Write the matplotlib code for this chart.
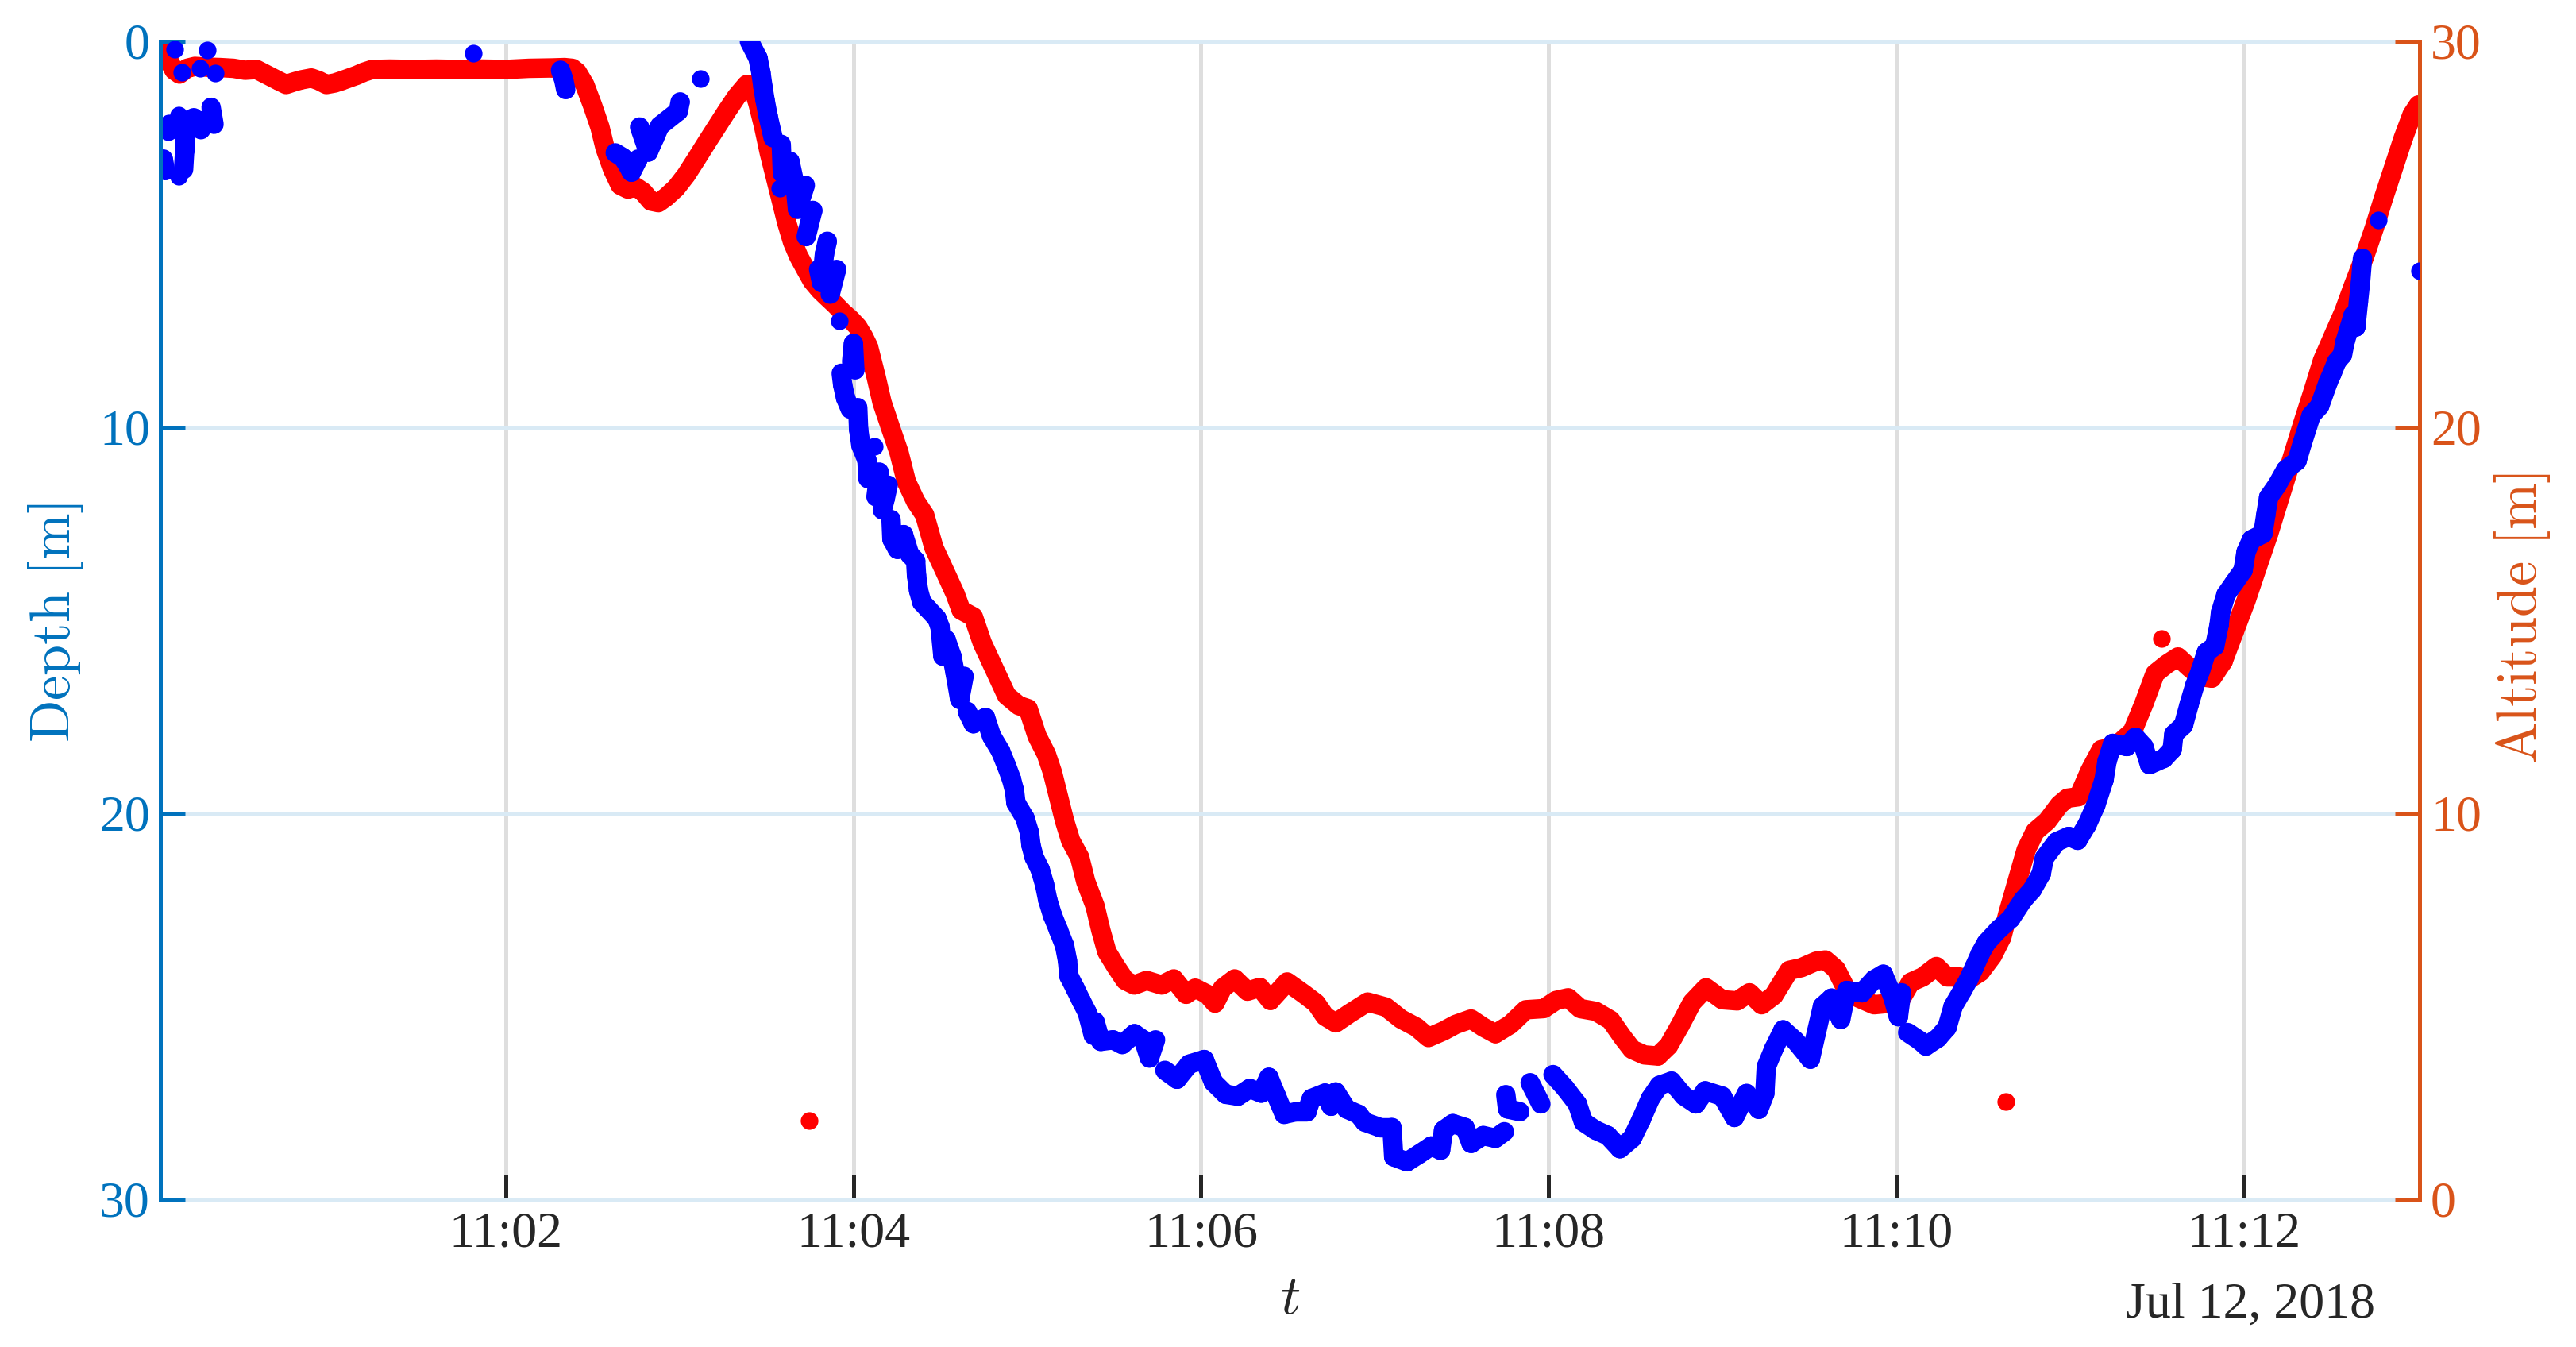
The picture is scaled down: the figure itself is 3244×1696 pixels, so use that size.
import numpy as np
import matplotlib
matplotlib.use('Agg')
import matplotlib.pyplot as plt
import matplotlib.dates as mdates
from matplotlib.collections import LineCollection
from datetime import datetime, timedelta

plt.rcParams['font.family'] = ['Liberation Serif', 'DejaVu Serif']
plt.rcParams['mathtext.fontset'] = 'cm'

# ---------------- data (seconds after 11:00:00, Jul 12 2018) ----------------
DATE0 = datetime(2018, 7, 12, 11, 0, 0)

red_t = [1, 3, 5.5, 7.4, 10, 12.7, 17, 21.4, 26, 30, 34, 38.9, 41.5, 44.2, 47, 49.4,
         52.9, 55.5, 58.1, 61, 63.4, 66, 68.6, 71, 73.9, 80, 88, 96, 104, 112, 120,
         128, 136, 140.3, 143, 144.7, 147.3, 150, 152.5, 154.3, 156.9, 159.5, 162.2,
         164.8, 167.4, 170.1, 172.7, 175.3, 178.8, 182.3, 185.8, 189.3, 192.8, 196.3,
         199.7, 203.2, 205, 207, 209, 211, 213, 215, 217, 219, 221.1, 223.5, 225.8,
         228.5, 231, 233.7, 236.3, 239, 241.5, 243.5, 245.2, 247.8, 249.9, 253, 255.7,
         258.3, 261.5, 264.6, 267.8, 272, 275.1, 277.2, 281.4, 284.5, 288.7, 292.9,
         297.1, 300.3, 303.4, 306.6, 308.7, 310.8, 312.9, 315, 318.1, 320.2, 323.4,
         325.4, 327.5, 330.7, 333.8, 337, 341.2, 346.4, 350.6, 354.8, 358, 362.2,
         364.8, 367.4, 371.6, 376, 380.3, 383.9, 389.7, 395.5, 399.7, 402.8, 406.5,
         411.2, 417.5, 423.8, 429, 434.3, 438.5, 443.7, 447.9, 453.2, 457.4, 461.6,
         466.8, 472.1, 478.3, 482.5, 486.7, 490.9, 496.2, 501.4, 505.6, 508.8, 513,
         517.7, 521.4, 525.3, 529.5, 534.3, 539.9, 545.1, 549.3, 553.5, 557.7, 563,
         567.2, 572.4, 575.5, 579.2, 582.9, 587.1, 592.3, 596.5, 600.7, 604.9, 609.1,
         613.8, 617.5, 621.7, 624.9, 629, 633.2, 636.4, 638.5, 640.6, 642.7, 644.8,
         647.9, 652.1, 656.3, 659, 662.9, 666.8, 670.7, 675.6, 681.5, 685.4, 689.3,
         693.3, 697.2, 701.1, 705, 708.9, 712.8, 716.7, 720.7, 724.6, 728.5, 732.4,
         736.3, 740.2, 744.2, 747.1, 751, 754.5, 757.7, 761.5, 765, 768, 771.4, 775,
         778, 780.2]
red_alt = [29.95, 29.6, 29.25, 29.15, 29.3, 29.35, 29.33, 29.32, 29.3, 29.25, 29.27,
           29.08, 28.98, 28.88, 28.95, 29.0, 29.05, 28.98, 28.88, 28.92, 28.98, 29.05,
           29.12, 29.2, 29.27, 29.28, 29.27, 29.28, 29.27, 29.28, 29.27, 29.3, 29.31,
           29.32, 29.3, 29.2, 28.87, 28.33, 27.78, 27.23, 26.68, 26.27, 26.17, 26.23,
           26.1, 25.86, 25.82, 25.96, 26.2, 26.54, 26.95, 27.37, 27.78, 28.19, 28.57,
           28.88, 28.86, 28.4, 27.8, 27.1, 26.5, 25.9, 25.3, 24.8, 24.43, 24.1, 23.79,
           23.55, 23.37, 23.18, 22.98, 22.8, 22.6, 22.35, 22.09, 21.32, 20.64, 19.95,
           19.36, 18.59, 18.08, 17.73, 16.88, 16.2, 15.69, 15.26, 15.09, 14.41, 13.73,
           13.05, 12.79, 12.71, 12.0, 11.53, 11.06, 10.43, 9.8, 9.29, 8.86, 8.23, 7.6,
           6.97, 6.41, 6.02, 5.67, 5.55, 5.67, 5.55, 5.71, 5.31, 5.47, 5.31, 5.08, 5.47,
           5.71, 5.39, 5.49, 5.15, 5.63, 5.32, 5.08, 4.74, 4.57, 4.81, 5.11, 4.98, 4.67,
           4.46, 4.19, 4.36, 4.53, 4.67, 4.46, 4.29, 4.53, 4.91, 4.94, 5.15, 5.22, 4.94,
           4.87, 4.64, 4.19, 3.88, 3.74, 3.71, 3.98, 4.5, 5.1, 5.48, 5.17, 5.14, 5.35,
           5.04, 5.28, 5.93, 6.0, 6.17, 6.2, 5.96, 5.41, 5.21, 5.04, 5.07, 5.07, 5.62,
           5.76, 6.03, 5.76, 5.76, 5.69, 5.89, 6.31, 6.79, 7.4, 7.95, 8.5, 9.05, 9.53,
           9.8, 10.22, 10.39, 10.43, 11.1, 11.65, 11.73, 12.12, 12.83, 13.62, 13.86,
           14.05, 13.78, 13.54, 13.5, 13.94, 14.72, 15.51, 16.38, 17.24, 18.19, 19.13,
           20.08, 21.02, 21.73, 22.4, 23.0, 23.66, 24.4, 25.17, 25.9, 26.68, 27.5,
           28.1, 28.35]

red_outlier_t = [224.6, 637.8, 691.5]
red_outlier_alt = [2.03, 2.53, 14.53]

blue_t = [1.8, 2.5, 3.6, 3.9, 5.7, 7.1, 7.1, 8.3, 8.8, 9.2, 9.2, 12.3, 14.4, 14.8, 15.8,
          17.1, 18.3, 19.3, 19.7,
          108.8,
          138.9, 140, 140.7,
          157.8, 160.4, 162.2, 163.4, 165.7, 166.2, 169.2, 171.4, 173.2, 179.6, 180.2, 187.2,
          204.1, 207.1, 208.1, 208.8, 209.5, 210.6, 212.3, 214.6, 215.1, 215.5, 218.1,
          219.9, 220.7, 223.4, 223.7, 226, 228, 229, 230, 231, 232, 234.2, 235.2, 235.8,
          236.3, 237.3, 238.9, 239.4, 240, 240.5, 241.5, 241.8, 242.6, 244.7, 245, 247.3,
          247.8, 248.9, 250, 251, 252, 253, 253.3, 255.2, 257.3, 259.4, 261.5, 261.8,
          262.5, 263.6, 265.7, 268.8, 269.9, 270.9, 272, 274, 275.1, 276.7, 278.2, 279.3,
          281.4, 283.5, 285.6, 287.7, 290.8, 292.9, 294.5, 295.6, 296.1, 299.2, 300.8,
          301.3, 302.4, 304.5, 306.0, 307.1, 308.7, 310.8, 312.9, 313.9, 314.4, 316.5,
          318.6, 320.7, 322.8, 323.4, 325.4, 329.6, 332.8, 337, 340.1, 342.2, 344.3,
          347.5, 351.7, 355.9, 361.1, 364.3, 368.5, 372.7, 376.8, 380.8, 383.4, 386,
          388.7, 392.9, 396.5, 398.1, 402.8, 404.9, 406.5, 410.2, 414.4, 416.5, 421.7,
          425.9,
          426.5, 431.1, 435.3, 439.5, 442.7, 443.7, 446.9, 451.1, 453.2, 457.4, 461.6, 464.7,
          465.2, 465.8, 470, 473.6, 477.3, 481.5, 485.7, 489.9, 492, 496.2, 500.4, 504.6,
          508.8, 511.9, 515.1, 518.2, 522.4, 526.6, 530.8, 534, 539.9, 544.1, 548.3,
          552.5, 554.6,
          555.1, 557.7, 560.9, 565.1, 570.3, 572.4, 574.5, 577.6, 580.8, 582.9, 588.1,
          592.3, 595.5, 598.6, 600.7, 601.8, 603.9, 608.1, 610.2, 614.4, 617.5, 619.6,
          622.8, 624.9, 627, 629, 631.1, 635.3, 639.5, 643.7, 646.9, 650, 651.1, 655.3,
          659.5, 662.6, 665.8, 668.8, 671.7, 672.7, 674.7, 679.5, 682.5, 685.4, 687.4,
          692.3, 695.2, 695.8, 699.1, 701.1, 703, 705, 707, 709.9, 711.4, 711.9, 713.8,
          716.7, 719.7, 720.7, 722.6, 726.5, 727.5, 728.5, 731.4, 734.4, 738.3, 740.2,
          743.2, 746.1, 749.1, 750.4, 752, 754, 754.9, 757.7, 758.6, 759.5, 760.2, 760.9,
          766.4, 780.5]
blue_depth = [3.05, 3.35, 2.33, 2.15, 0.2, 1.91, 3.49, 0.8, 3.32, 2.82, 2.12, 1.98, 0.7,
              2.29, 2.05, 0.22, 1.71, 2.15, 0.82,
              0.3,
              0.75, 0.99, 1.25,
              2.89, 3.01, 3.22, 3.39, 3.05, 2.22, 2.87, 2.5, 2.19, 1.81, 1.57, 0.97,
              0.0, 0.44, 0.82, 1.19, 1.52, 1.95, 2.5, 3.81, 2.67, 3.42, 3.11, 3.73, 4.35,
              3.73, 5.06, 4.38, 5.91, 6.25, 5.52, 5.18, 6.55, 5.91, 7.25, 8.6, 8.9, 9.24,
              9.53, 8.3, 7.83, 8.51, 9.49, 10.05, 10.47, 10.86, 11.33, 10.49, 11.8, 11.16,
              12.14, 11.84, 11.5, 12.39, 12.9, 13.16, 12.78, 13.29, 13.46, 13.84, 14.23,
              14.53, 14.7, 14.95, 15.17, 15.93, 15.5, 15.93, 16.36, 17.05, 16.45, 17.36,
              17.68, 17.6, 17.52, 18.0, 18.39, 18.78, 19.1, 19.41, 19.73, 20.12, 20.51,
              20.83, 21.14, 21.46, 21.85, 22.25, 22.64, 23.03, 23.43, 23.82, 24.22, 24.53,
              24.85, 25.16, 25.75, 25.4, 25.91, 25.87, 25.99, 25.71, 25.87, 26.34, 25.87,
              26.66, 26.89, 26.5, 26.38, 26.97, 27.28, 27.33, 27.13, 27.25, 26.84, 27.32,
              27.8, 27.73, 27.73, 27.39, 27.25, 27.59, 27.22, 27.66, 27.8, 28.0, 28.14,
              28.14,
              28.9, 29.03, 28.83, 28.62, 28.73, 28.21, 28.04, 28.14, 28.55, 28.35, 28.42, 28.25,
              27.29, 27.66, 27.73, 26.98, 27.53, 26.77, 27.12, 27.53, 28.0, 28.21, 28.35,
              28.69, 28.42, 27.94, 27.39, 27.05, 26.94, 27.32, 27.53, 27.19, 27.33, 27.88,
              27.26, 27.67, 27.26,
              26.57, 26.1, 25.61, 25.89, 26.37, 25.68, 25.0, 24.79, 25.34, 24.59, 24.65,
              24.31, 24.17, 24.72, 25.27, 24.65, 25.68, 25.89, 26.03, 25.82, 25.55, 25.0,
              24.59, 24.31, 23.97, 23.63, 23.35, 23.01, 22.73, 22.25, 21.98, 21.57, 21.16,
              20.74, 20.6, 20.7, 20.3, 19.8, 19.13, 18.66, 18.19, 18.27, 18.03, 18.27,
              18.74, 18.58, 18.35, 17.95, 17.72, 17.17, 16.69, 16.3, 15.83, 15.67, 15.12,
              14.8, 14.33, 14.02, 13.7, 13.23, 12.91, 12.76, 12.28, 11.81, 11.5, 11.1,
              10.87, 10.39, 9.69, 9.45, 8.82, 8.6, 8.3, 8.12, 7.78, 7.09, 7.4, 6.75, 6.26,
              5.62, 4.62, 5.95]

x_range_s = [0.8, 780.6]
tick_minutes = [2, 4, 6, 8, 10, 12]
depth_ticks = [0, 10, 20, 30]
alt_ticks = [0, 10, 20, 30]
date_label = 'Jul 12, 2018'

# ---------------- styling ----------------
BLUE_AX = '#0072BD'
ORANGE_AX = '#D95319'
DARK = '#262626'
BLUE_PT = '#0000FF'
RED_PT = '#FF0000'
MS = 8.0          # marker diameter (pt)
BAND = 8.8        # width of the dense sample band (pt)
FS_TICK = 23
FS_LABEL = 25.3
LW = 1.8

def to_num(secs):
    return mdates.date2num([DATE0 + timedelta(seconds=float(s)) for s in secs])

W, H, DPI = 3244, 1696, 200
fig = plt.figure(figsize=(W / DPI, H / DPI), dpi=DPI)
ax_r = fig.add_axes([202 / W, 1 - 1510 / H, (3047 - 202) / W, (1510 - 52) / H])
ax_b = ax_r.twinx()

ax_r.set_xlim(*to_num(x_range_s))
ax_r.set_ylim(0, 30)
ax_b.set_ylim(30, 0)

ax_r.yaxis.tick_right()
ax_r.yaxis.set_label_position('right')
ax_b.yaxis.tick_left()
ax_b.yaxis.set_label_position('left')
ax_r.set_yticks(alt_ticks)
ax_b.set_yticks(depth_ticks)
ax_r.xaxis.set_major_locator(mdates.MinuteLocator(byminute=tick_minutes))
ax_r.xaxis.set_major_formatter(mdates.DateFormatter('%H:%M'))

ax_r.set_axisbelow(True)
ax_r.grid(axis='x', color='#DEDEDE', lw=LW)
ax_r.grid(axis='y', color='#D9EAF5', lw=LW)
for tk in ax_r.yaxis.get_major_ticks():
    tk.gridline.set_clip_on(False)

ax_r.tick_params(axis='x', direction='in', length=11, width=LW, color=DARK,
                 labelcolor=DARK, labelsize=FS_TICK, pad=5.5)
ax_r.tick_params(axis='y', direction='in', length=11, width=LW, color=ORANGE_AX,
                 labelcolor=ORANGE_AX, labelsize=FS_TICK, pad=5,
                 left=False, labelleft=False, right=True, labelright=True)
ax_b.tick_params(axis='y', direction='in', length=11, width=LW, color=BLUE_AX,
                 labelcolor=BLUE_AX, labelsize=FS_TICK, pad=4.7,
                 left=True, labelleft=True, right=False, labelright=False)

for s in ['top', 'left']:
    ax_r.spines[s].set_visible(False)
ax_r.spines['right'].set_color(ORANGE_AX)
ax_r.spines['right'].set_linewidth(LW)
ax_r.spines['bottom'].set_color(DARK)
ax_r.spines['bottom'].set_linewidth(LW)
ax_r.spines['bottom'].set_zorder(0.4)
for s in ['top', 'right', 'bottom']:
    ax_b.spines[s].set_visible(False)
ax_b.spines['left'].set_color(BLUE_AX)
ax_b.spines['left'].set_linewidth(LW)

# ---------------- red altitude samples ----------------
rx = to_num(red_t)
ax_r.plot(rx, red_alt, '-', color=RED_PT, lw=BAND, solid_capstyle='round',
          solid_joinstyle='round', zorder=2)
ax_r.plot(rx, red_alt, 'o', color=RED_PT, ms=MS, mec='none', zorder=2)
ax_r.plot(to_num(red_outlier_t), red_outlier_alt, 'o', color=RED_PT, ms=MS,
          mec='none', zorder=2)

# ---------------- blue depth samples ----------------
bx = to_num(blue_t)
bd = np.asarray(blue_depth, dtype=float)
pix = ax_b.transData.transform(np.column_stack([bx, bd]))
dist = np.hypot(np.diff(pix[:, 0]), np.diff(pix[:, 1]))
segs = [[(bx[i], bd[i]), (bx[i + 1], bd[i + 1])] for i in range(len(bx) - 1)
        if dist[i] < 38]
lc = LineCollection(segs, colors=BLUE_PT, linewidths=BAND, capstyle='round',
                    joinstyle='round', zorder=2)
ax_b.add_collection(lc, autolim=False)
ax_b.plot(bx, bd, 'o', color=BLUE_PT, ms=MS, mec='none', zorder=2)
ax_b.set_ylim(30, 0)
ax_r.set_xlim(*to_num(x_range_s))

# ---------------- labels ----------------
fig.text(71 / W, 1 - 784 / H, r'$\mathrm{Depth\ [m]}$', rotation=90, ha='center',
         va='center', color=BLUE_AX, fontsize=FS_LABEL)
fig.text(3176 / W, 1 - 778 / H, r'$\mathrm{Altitude\ [m]}$', rotation=90,
         ha='center', va='center', color=ORANGE_AX, fontsize=FS_LABEL)
fig.text(1625 / W, 1 - 1637 / H, r'$t$', ha='center', va='center', color=DARK,
         fontsize=FS_LABEL)
fig.text(2834 / W, 1 - 1659 / H, date_label, ha='center', va='baseline', color=DARK,
         fontsize=FS_TICK)

fig.savefig('out.png', dpi=DPI)
